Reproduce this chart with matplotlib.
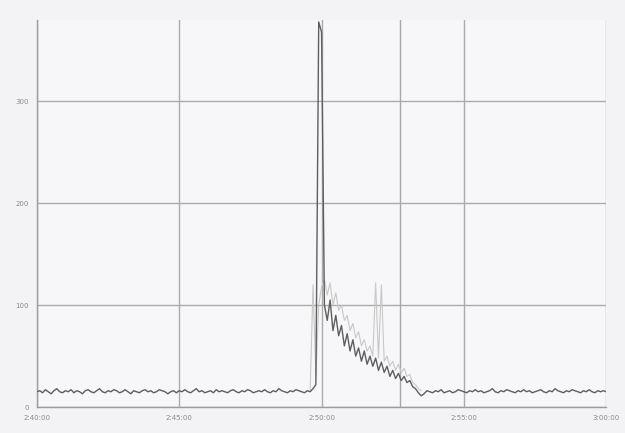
import matplotlib.pyplot as plt
import numpy as np

# sampled every 0.1 min
main_series = [
    15, 16, 14, 17, 15, 13, 16, 18, 15, 14,
    16, 15, 17, 14, 16, 15, 13, 16, 17, 15,
    14, 16, 18, 15, 14, 16, 15, 17, 16, 14,
    15, 17, 15, 13, 16, 15, 14, 16, 17, 15,
    16, 14, 15, 17, 16, 15, 13, 15, 16, 14,
    16, 15, 17, 15, 14, 16, 18, 15, 16, 14,
    15, 16, 14, 17, 15, 16, 15, 14, 16, 17,
    15, 14, 16, 15, 17, 16, 14, 15, 16, 15,
    17, 15, 14, 16, 15, 18, 16, 15, 14, 16,
    15, 17, 16, 15, 14, 16, 15,
    18, 22, 378,
    368, 100, 85, 105, 75, 90, 70, 80, 60, 72,
    55, 66, 50, 58, 45, 55, 42, 50, 40, 48,
    36, 44, 34, 40, 30, 36, 28, 33, 26, 30,
    24, 26, 20, 18,
    14, 11, 13, 16, 15, 14, 16, 15, 17, 14,
    15, 16, 14, 15, 17, 16, 15, 14, 16, 15,
    17, 15, 16, 14, 15, 16, 18, 15, 14, 16,
    15, 17, 16, 15, 14, 16, 15, 17, 15, 16,
    14, 15, 16, 17, 15, 14, 16, 15, 18, 16,
    15, 14, 16, 15, 17, 16, 15, 14, 16, 15,
    17, 15, 14, 16, 15, 16, 15,
]

# light envelope around the burst, starting at 9.6 min
peak_start = 9.6
peak_series = [
    16, 120, 30, 100, 118, 125, 110, 122, 100, 112,
    95, 100, 85, 90, 75, 82, 68, 74, 60, 66,
    55, 60, 50, 122, 48, 120, 45, 50, 40, 45,
    36, 42, 34, 38, 30, 32, 24, 22, 18, 16,
]

x_ticks = [0, 5, 10, 15, 20]
x_labels = ['2:40:00', '2:45:00', '2:50:00', '2:55:00', '3:00:00']
y_ticks = [0, 100, 200, 300]
y_labels = ['0', '100', '200', '300']
marker_x = 12.75

t_main = np.arange(len(main_series)) * 0.1
t_peak = peak_start + np.arange(len(peak_series)) * 0.1

fig = plt.figure(figsize=(6.25, 4.33), dpi=100)
fig.patch.set_facecolor('#f3f3f6')
ax = fig.add_axes([0.059, 0.060, 0.911, 0.894])
ax.set_facecolor('#f7f7f9')

ax.plot(t_peak, peak_series, color='#c8c8c8', linewidth=0.8, zorder=2)
ax.plot(t_main, main_series, color='#5e5e5e', linewidth=1.0, zorder=3)
ax.axvline(marker_x, color='#a8a8a8', linewidth=1.0, zorder=1)

ax.set_xlim(0, 20)
ax.set_ylim(0, 380)
ax.set_xticks(x_ticks)
ax.set_xticklabels(x_labels)
ax.set_yticks(y_ticks)
ax.set_yticklabels(y_labels)
ax.tick_params(labelsize=5, labelcolor='#8a8a8a', length=0, pad=6)
ax.grid(True, color='#ababab', linewidth=1.0)
ax.set_axisbelow(True)

for side in ['top', 'right']:
    ax.spines[side].set_visible(False)
for side in ['left', 'bottom']:
    ax.spines[side].set_color('#9c9c9c')
    ax.spines[side].set_linewidth(1.0)

fig.savefig('out.png', dpi=100, facecolor=fig.get_facecolor())
